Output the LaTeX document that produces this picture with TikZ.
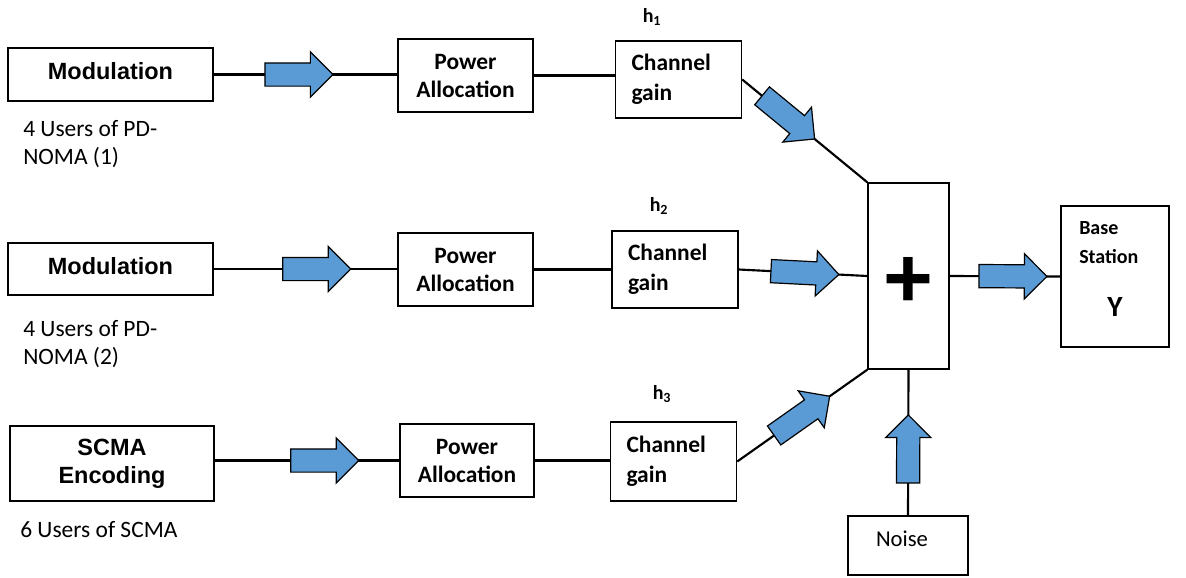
\documentclass[tikz,border=0pt]{standalone}
\usepackage{fontspec}
\setmainfont{Carlito}
\newfontfamily\arialfont{Liberation Sans}
\usetikzlibrary{shapes.arrows}
\definecolor{arrowblue}{HTML}{5B9BD5}

\begin{document}
\begin{tikzpicture}[x=0.75pt,y=-0.75pt,
  bx/.style 2 args={draw=black, line width=1.1pt, minimum width=#1*0.75pt,
    minimum height=#2*0.75pt, inner sep=0pt},
  modtext/.style={font=\arialfont\bfseries\fontsize{17.6}{21}\selectfont, align=center},
  patext/.style={font=\bfseries\fontsize{17.6}{21}\selectfont, align=center},
  cgbox/.style={draw=black, line width=1.1pt, minimum height=77*0.75pt,
    text width=94*0.75pt, inner xsep=16*0.75pt, inner ysep=0pt, align=left,
    font=\bfseries\fontsize{17.6}{22.5}\selectfont},
  note/.style={font=\fontsize{17.6}{21}\selectfont, align=left, anchor=west, inner sep=0pt},
  hlabel/.style={font=\bfseries\fontsize{15}{17}\selectfont, inner sep=0pt},
  wire/.style={line width=1.6pt, black},
  fat/.style={single arrow, draw=black, fill=arrowblue, line width=0.9pt,
    minimum height=68*0.75pt, minimum width=44*0.75pt,
    single arrow head extend=11*0.75pt, single arrow tip angle=90,
    inner xsep=0pt, inner ysep=11*0.75pt, anchor=tail, sloped},
]
\useasboundingbox (0,0) rectangle (1186,578);

% source blocks
\node[bx={205}{53}, modtext, text depth=5pt] (mod1) at (110.5,74.5) {Modulation};
\node[bx={205}{52}, modtext, text depth=5pt] (mod2) at (110.5,269) {Modulation};
\node[bx={204}{75}, modtext] (scma) at (112,463.5) {SCMA\\Encoding};

\node[note] (n1) at (23,144) {4 Users of PD-\\NOMA (1)};
\node[note] (n2) at (23,344) {4 Users of PD-\\NOMA (2)};
\node[note] (n3) at (20,530) {6 Users of SCMA};

% power allocation
\node[bx={135}{73}, patext] (pa1) at (465.5,75.5) {Power\\Allocation};
\node[bx={135}{73}, patext] (pa2) at (465.5,269.5) {Power\\Allocation};
\node[bx={134}{73}, patext] (pa3) at (467,460.5) {Power\\Allocation};

% channel gains
\node[cgbox] (cg1) at (678.5,79.5) {Channel\\gain};
\node[cgbox] (cg2) at (675,269.5) {Channel\\gain};
\node[cgbox, minimum height=79*0.75pt] (cg3) at (673.5,461.5) {Channel\\gain};

\node[hlabel] (h1) at (652,17) {h\textsubscript{1}};
\node[hlabel] (h2) at (659,206) {h\textsubscript{2}};
\node[hlabel] (h3) at (662,394) {h\textsubscript{3}};

% adder, receiver and noise
\node[bx={81}{186}] (add) at (908.5,276) {};
\node[font=\arialfont\bfseries\fontsize{64}{70}\selectfont, inner sep=0pt] (plus) at (908.5,282) {+};
\node[bx={108}{141}] (bs) at (1115,276.5) {};
\node[font=\bfseries\fontsize{15}{21.75}\selectfont, align=left, anchor=west, inner sep=0pt]
  (bstext) at (1079,242.5) {Base\\Station};
\node[font=\bfseries\fontsize{22}{26}\selectfont, inner sep=0pt] (bsy) at (1115,307) {Y};
\node[bx={120}{59}] (noise) at (908,545.5) {};
\node[font=\fontsize{17}{20}\selectfont, inner sep=0pt] (noisetext) at (902,539) {Noise};

% connectors
\draw[wire] (mod1.east) -- node[fat, pos=0.276] (a1) {} (mod1.east -| pa1.west);
\draw[wire] (mod2.east) -- node[fat, pos=0.373] (a2) {} (mod2.east -| pa2.west);
\draw[wire] (scma.east |- pa3.west) -- node[fat, pos=0.409] (a3) {} (pa3.west);

\draw[wire] (pa1.east) -- (pa1.east -| cg1.west);
\draw[wire] (pa2.east) -- (cg2.west);
\draw[wire] (pa3.east) -- (pa3.east -| cg3.west);

\draw[wire] (cg1.east) -- node[fat, pos=0.155] (b1) {} (add.north west);
\draw[wire] (cg2.east) -- node[fat, pos=0.246] (b2) {} (add.west);
\draw[wire] (cg3.east) -- node[fat, pos=0.28] (b3) {} (add.south west);

\draw[wire] (add.east) -- node[fat, pos=0.259] (c1) {} (bs.west);
\draw[wire] (noise.north) -- node[fat, pos=0.218] (c2) {} (add.south);
\end{tikzpicture}
\end{document}
